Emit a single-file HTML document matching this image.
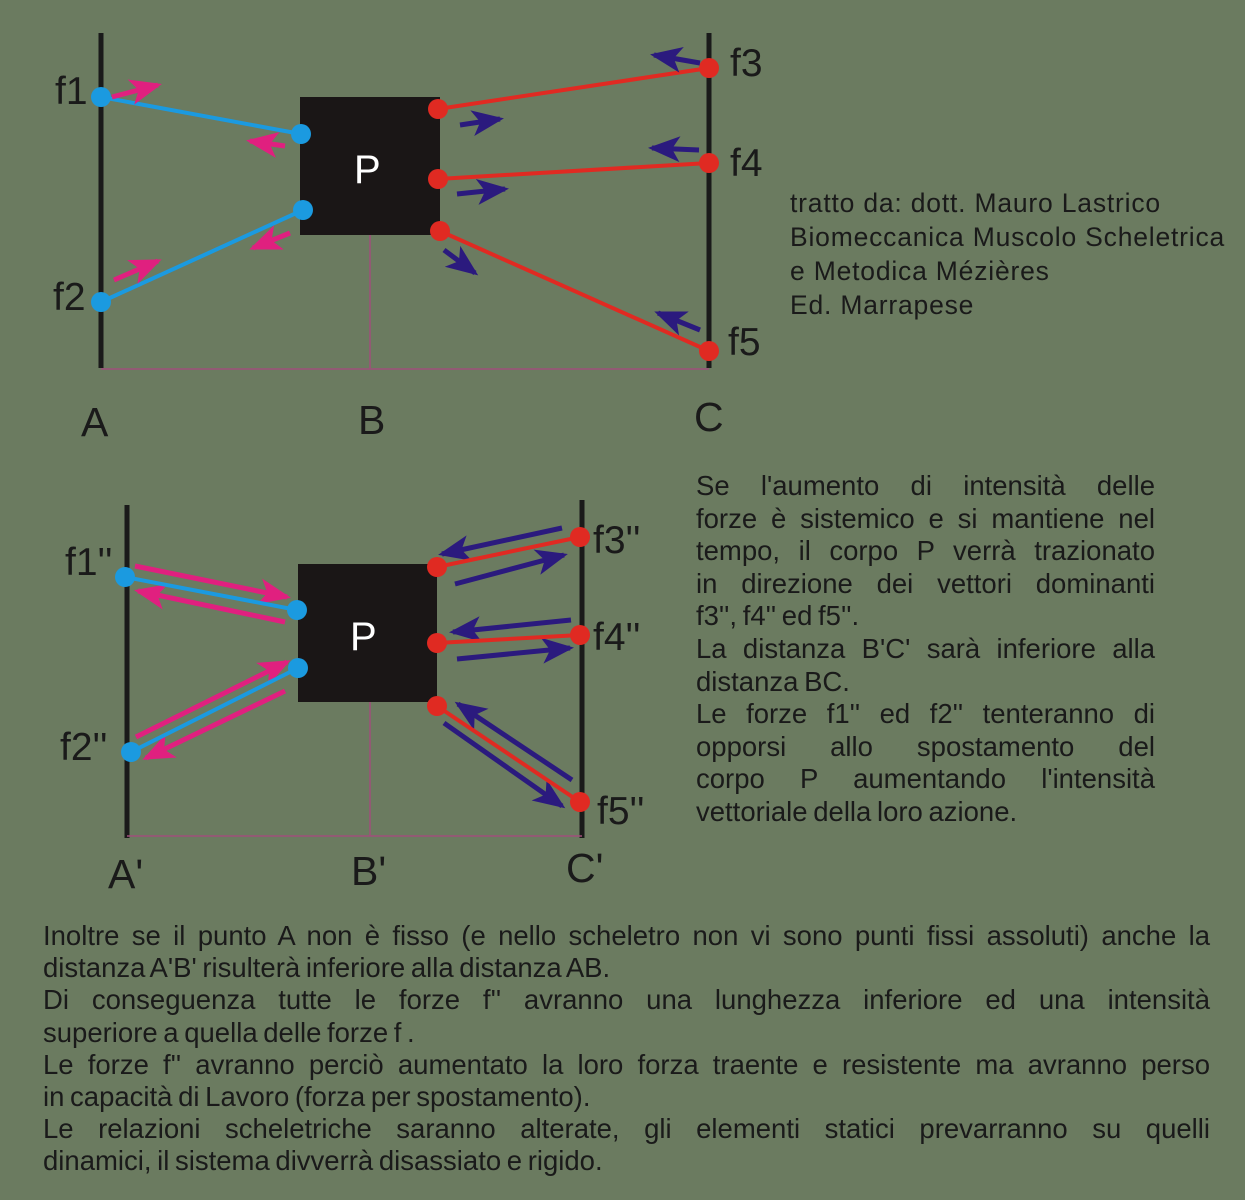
<!DOCTYPE html>
<html><head><meta charset="utf-8"><style>
html,body{margin:0;padding:0}
body{width:1245px;height:1200px;background:#6b7b60;position:relative;overflow:hidden;font-family:"Liberation Sans",Arial,sans-serif;color:#1a1a1a}
svg{position:absolute;left:0;top:0}
.t{position:absolute;white-space:nowrap}
.p{font-family:"Liberation Sans",Arial,sans-serif;font-size:27.5px;letter-spacing:0px;word-spacing:-2px}
.p div{white-space:nowrap}
.jj{text-align:justify;text-align-last:justify}
</style></head><body>
<svg width="1245" height="1200" viewBox="0 0 1245 1200">
<defs>
<marker id="pk" markerUnits="userSpaceOnUse" markerWidth="34" markerHeight="28" refX="28" refY="14" orient="auto"><path d="M0,1 L32,14 L0,27 L8,14Z" fill="#e0207f"/></marker>
<marker id="nv" markerUnits="userSpaceOnUse" markerWidth="34" markerHeight="28" refX="28" refY="14" orient="auto"><path d="M0,1 L32,14 L0,27 L8,14Z" fill="#2b1a7e"/></marker>
</defs>
<g stroke="#1a1a1a" stroke-width="5"><line x1="101" y1="33" x2="101" y2="368"/><line x1="709" y1="33" x2="709" y2="368"/></g>
<g stroke="#a0507a" stroke-width="1.5"><line x1="101" y1="369" x2="709" y2="369"/><line x1="370" y1="235" x2="370" y2="369"/></g>
<rect x="300" y="97" width="140" height="138" fill="#1a1616"/>
<text x="354" y="183" font-size="40" fill="#fff" font-family="Liberation Sans">P</text>
<g stroke="#1b9ae0" stroke-width="4"><line x1="101" y1="97" x2="301" y2="134"/><line x1="101" y1="302" x2="303" y2="210"/></g>
<g stroke="#e02a22" stroke-width="4"><line x1="438" y1="109" x2="709" y2="68"/><line x1="438" y1="179" x2="709" y2="163"/><line x1="440" y1="231" x2="709" y2="351"/></g>
<g fill="#1b9ae0"><circle cx="101" cy="97" r="10"/><circle cx="301" cy="134" r="10"/><circle cx="303" cy="210" r="10"/><circle cx="101" cy="302" r="10"/></g>
<g fill="#e02a22"><circle cx="438" cy="109" r="10"/><circle cx="709" cy="68" r="10"/><circle cx="438" cy="179" r="10"/><circle cx="709" cy="163" r="10"/><circle cx="440" cy="231" r="10"/><circle cx="709" cy="351" r="10"/></g>
<g stroke-width="5">
<line x1="112" y1="97" x2="158" y2="85" stroke="#e0207f" marker-end="url(#pk)"/>
<line x1="285" y1="146" x2="250" y2="141" stroke="#e0207f" marker-end="url(#pk)"/>
<line x1="290" y1="233" x2="253" y2="248" stroke="#e0207f" marker-end="url(#pk)"/>
<line x1="114" y1="280" x2="158" y2="261" stroke="#e0207f" marker-end="url(#pk)"/>
<line x1="700" y1="63" x2="654" y2="55" stroke="#2b1a7e" marker-end="url(#nv)"/>
<line x1="460" y1="125" x2="500" y2="119" stroke="#2b1a7e" marker-end="url(#nv)"/>
<line x1="699" y1="150" x2="652" y2="148" stroke="#2b1a7e" marker-end="url(#nv)"/>
<line x1="457" y1="194" x2="505" y2="189" stroke="#2b1a7e" marker-end="url(#nv)"/>
<line x1="444" y1="250" x2="475" y2="273" stroke="#2b1a7e" marker-end="url(#nv)"/>
<line x1="700" y1="330" x2="658" y2="313" stroke="#2b1a7e" marker-end="url(#nv)"/>
</g>
<g font-size="39" fill="#1a1a1a" font-family="Liberation Sans">
<text x="55" y="104">f1</text><text x="53" y="310">f2</text>
<text x="730" y="76">f3</text><text x="730" y="176">f4</text><text x="728" y="355">f5</text>
<text x="81" y="436" font-size="41">A</text><text x="358" y="434" font-size="41">B</text><text x="694" y="431" font-size="41">C</text>
</g>
<g stroke="#1a1a1a" stroke-width="5"><line x1="127" y1="505" x2="127" y2="838"/><line x1="582" y1="500" x2="582" y2="838"/></g>
<g stroke="#a0507a" stroke-width="1.5"><line x1="127" y1="836" x2="582" y2="836"/><line x1="370" y1="702" x2="370" y2="836"/></g>
<rect x="298" y="564" width="139" height="138" fill="#1a1616"/>
<text x="350" y="650" font-size="40" fill="#fff" font-family="Liberation Sans">P</text>
<g stroke-width="5">
<line x1="135" y1="566" x2="287" y2="597" stroke="#e0207f" marker-end="url(#pk)"/>
<line x1="285" y1="622" x2="138" y2="591" stroke="#e0207f" marker-end="url(#pk)"/>
<line x1="136" y1="737" x2="287" y2="662" stroke="#e0207f" marker-end="url(#pk)"/>
<line x1="285" y1="691" x2="146" y2="758" stroke="#e0207f" marker-end="url(#pk)"/>
<line x1="562" y1="528" x2="442" y2="554" stroke="#2b1a7e" marker-end="url(#nv)"/>
<line x1="455" y1="584" x2="564" y2="555" stroke="#2b1a7e" marker-end="url(#nv)"/>
<line x1="571" y1="620" x2="453" y2="632" stroke="#2b1a7e" marker-end="url(#nv)"/>
<line x1="457" y1="659" x2="570" y2="648" stroke="#2b1a7e" marker-end="url(#nv)"/>
<line x1="572" y1="780" x2="458" y2="704" stroke="#2b1a7e" marker-end="url(#nv)"/>
<line x1="444" y1="723" x2="562" y2="806" stroke="#2b1a7e" marker-end="url(#nv)"/>
</g>
<g stroke="#1b9ae0" stroke-width="4"><line x1="125" y1="577" x2="297" y2="610"/><line x1="131" y1="752" x2="298" y2="668"/></g>
<g stroke="#e02a22" stroke-width="4"><line x1="437" y1="567" x2="580" y2="537"/><line x1="437" y1="643" x2="580" y2="635"/><line x1="437" y1="706" x2="580" y2="802"/></g>
<g fill="#1b9ae0"><circle cx="125" cy="577" r="10"/><circle cx="297" cy="610" r="10"/><circle cx="298" cy="668" r="10"/><circle cx="131" cy="752" r="10"/></g>
<g fill="#e02a22"><circle cx="437" cy="567" r="10"/><circle cx="580" cy="537" r="10"/><circle cx="437" cy="643" r="10"/><circle cx="580" cy="635" r="10"/><circle cx="437" cy="706" r="10"/><circle cx="580" cy="802" r="10"/></g>
<g font-size="39" fill="#1a1a1a" font-family="Liberation Sans">
<text x="65" y="575">f1''</text><text x="60" y="760">f2''</text>
<text x="593" y="553">f3''</text><text x="593" y="650">f4''</text><text x="597" y="824">f5''</text>
<text x="108" y="888" font-size="41">A'</text><text x="351" y="885" font-size="41">B'</text><text x="566" y="882" font-size="41">C'</text>
</g>
</svg>
<div class="t" style="left:790px;top:186px;font-size:26.5px;letter-spacing:0.8px;line-height:34px">tratto da: dott. Mauro Lastrico<br>Biomeccanica Muscolo Scheletrica<br>e Metodica Mézières<br>Ed. Marrapese</div>
<div class="p" style="position:absolute;left:696px;top:470px;width:459px;line-height:32.6px">
<div class="jj">Se l'aumento di intensità delle</div>
<div class="jj">forze è sistemico e si mantiene nel</div>
<div class="jj">tempo, il corpo P verrà trazionato</div>
<div class="jj">in direzione dei vettori dominanti</div>
<div>f3'', f4'' ed f5''.</div>
<div class="jj">La distanza B'C' sarà inferiore alla</div>
<div>distanza BC.</div>
<div class="jj">Le forze f1'' ed f2'' tenteranno di</div>
<div class="jj">opporsi allo spostamento del</div>
<div class="jj">corpo P aumentando l'intensità</div>
<div>vettoriale della loro azione.</div>
</div>
<div class="p" style="position:absolute;left:43px;top:920px;width:1167px;line-height:32.2px">
<div class="jj">Inoltre se il punto A non è fisso (e nello scheletro non vi sono punti fissi assoluti) anche la</div>
<div>distanza A'B' risulterà inferiore alla distanza AB.</div>
<div class="jj">Di conseguenza tutte le forze f'' avranno una lunghezza inferiore ed una intensità</div>
<div>superiore a quella delle forze f .</div>
<div class="jj">Le forze f'' avranno perciò aumentato la loro forza traente e resistente ma avranno perso</div>
<div>in capacità di Lavoro (forza per spostamento).</div>
<div class="jj">Le relazioni scheletriche saranno alterate, gli elementi statici prevarranno su quelli</div>
<div>dinamici, il sistema divverrà disassiato e rigido.</div>
</div>
</body></html>
